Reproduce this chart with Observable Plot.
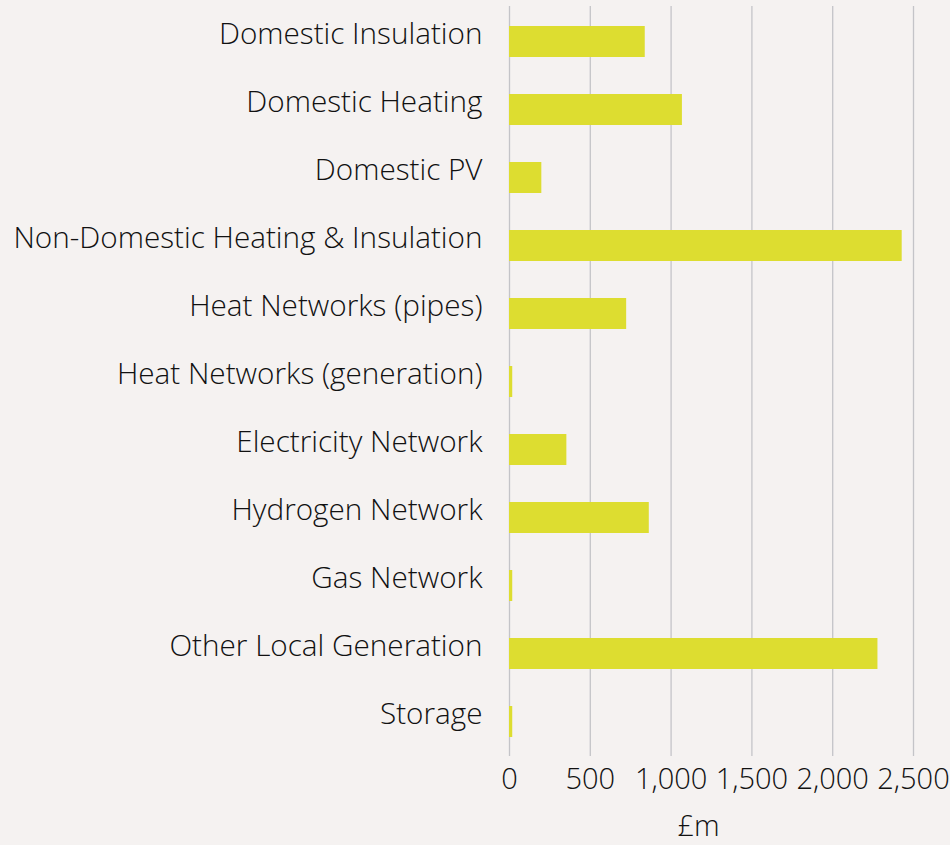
<!DOCTYPE html>
<html>
<head>
<meta charset="utf-8">
<script src="https://cdn.jsdelivr.net/npm/d3@7"></script>
<script src="https://cdn.jsdelivr.net/npm/@observablehq/plot@0.6"></script>
<style>
  html, body { margin: 0; padding: 0; background: #f5f2f1; }
  #chart svg { display: block; }
</style>
</head>
<body>
<div id="chart"></div>
<script>
const categories = [
  "Domestic Insulation",
  "Domestic Heating",
  "Domestic PV",
  "Non-Domestic Heating & Insulation",
  "Heat Networks (pipes)",
  "Heat Networks (generation)",
  "Electricity Network",
  "Hydrogen Network",
  "Gas Network",
  "Other Local Generation",
  "Storage"
];
const values = [840, 1070, 200, 2430, 725, 20, 355, 865, 20, 2280, 20];
const xTicks = [0, 500, 1000, 1500, 2000, 2500];
const xLabel = "£m";

const data = categories.map((c, i) => ({category: c, value: values[i]}));

const chart = Plot.plot({
  width: 950,
  height: 845,
  marginLeft: 509,
  marginRight: 37,
  marginTop: 6,
  marginBottom: 89,
  style: {
    background: "#f5f2f1",
    fontFamily: "'Open Sans', sans-serif",
    fontWeight: 300,
    fontSize: "29px",
    color: "#111"
  },
  x: {domain: [0, 2500], ticks: xTicks},
  y: {domain: categories, paddingInner: 0.545, paddingOuter: 0.2725},
  marks: [
    Plot.gridX(xTicks, {stroke: "#c4c4c8", strokeOpacity: 1, strokeWidth: 1.3}),
    Plot.barX(data, {x: "value", y: "category", fill: "#dddd30"}),
    Plot.axisY({tickSize: 0, tickPadding: 27, label: null, fontSize: 29.7, fill: "#111", dy: -8}),
    Plot.axisX(xTicks, {tickSize: 0, tickPadding: 12, label: null, fontSize: 29, fill: "#111",
      tickFormat: d => d3.format(",")(d)}),
    Plot.text([xLabel], {frameAnchor: "bottom", dx: -13, dy: 79, fontSize: 29, fill: "#111"})
  ]
});
document.getElementById("chart").appendChild(chart);
</script>
</body>
</html>
